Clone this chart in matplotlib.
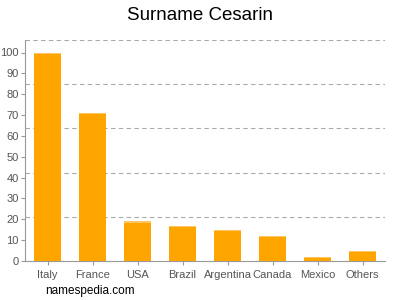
import matplotlib
matplotlib.use("Agg")
import matplotlib.pyplot as plt
import numpy as np

plt.rcParams['font.family'] = ['Liberation Sans', 'DejaVu Sans']

categories = ["Italy", "France", "USA", "Brazil", "Argentina", "Canada", "Mexico", "Others"]
values = [100, 71, 19, 17, 15, 12, 2, 5]
yticks = [0, 10, 20, 30, 40, 50, 60, 70, 80, 90, 100]

fig = plt.figure(figsize=(4, 3), dpi=100)
ax = fig.add_axes([0.0625, 0.13, 0.9, 0.7367])
ymax = 106
x = np.arange(len(categories))
ax.bar(x, values, width=0.62, color='#FFA500', zorder=3)
ax.bar(x, [0.6] * len(values), bottom=np.array(values) - 0.6, width=0.62, color='#FFC560', zorder=4)
for g in np.linspace(0, ymax, 6)[1:]:
    ax.axhline(g, color='#aaaaaa', linestyle=(0, (4, 3)), linewidth=0.8, zorder=1)
ax.set_xlim(-0.5, len(categories) - 0.5)
ax.set_ylim(0, ymax)
ax.set_xticks(x)
ax.set_xticklabels(categories)
ax.set_yticks(yticks)
for s in ['top', 'right']:
    ax.spines[s].set_visible(False)
for s in ['left', 'bottom']:
    ax.spines[s].set_color('#999999')
ax.tick_params(axis='both', colors='#999999', labelcolor='#555555', labelsize=8, length=3)
ax.tick_params(axis='y', pad=1.5)
fig.text(0.5, 0.95, "Surname Cesarin", ha='center', va='center', fontsize=13.5, color='#000000')
fig.text(0.112, 0.03, "namespedia.com", ha='left', va='center', fontsize=8.5, color='#000000')
fig.savefig("out.png", dpi=100)
